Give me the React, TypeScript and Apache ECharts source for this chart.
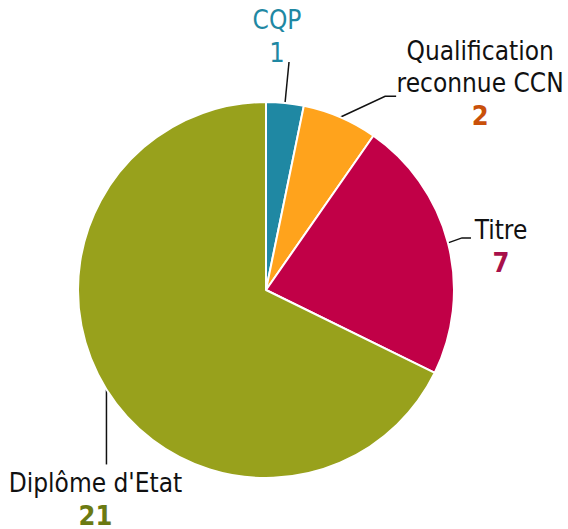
import React, { useEffect, useRef } from 'react';
import * as echarts from 'echarts';

const categories = ['CQP', 'Qualification\nreconnue CCN', 'Titre', "Diplôme d'Etat"];
const values = [1, 2, 7, 21];
const sliceColors = ['#1f88a3', '#ffa31c', '#c10047', '#98a11c'];
const nameColors = ['#1f88a3', '#111111', '#111111', '#111111'];
const valueColors = ['#1f88a3', '#c9500a', '#a8104a', '#6b7a12'];
const valueWeights = ['normal', 'bold', 'bold', 'bold'];

// label placement relative to the slice's edge point (mid-angle)
const labelOffsets = [
  [-8, -66.5],
  [140, -34],
  [53, 3.5],
  [-11, 110],
];
const lineBends = [
  [[4, -41], [4, -41]],
  [[45, -21], [56, -21]],
  [[14, -5], [23, -5]],
  [[0, 75], [0, 75]],
];

const FONT = "'DejaVu Sans Condensed', 'DejaVu Sans', sans-serif";

export default function App() {
  const ref = useRef<HTMLDivElement>(null);
  useEffect(() => {
    document.body.style.margin = '0';
    const chart = echarts.init(ref.current!, null, { renderer: 'svg' });
    const data = categories.map((name, i) => ({
      name,
      value: values[i],
      itemStyle: { color: sliceColors[i] },
      label: {
        rich: {
          n: { color: nameColors[i], fontSize: 26, lineHeight: 32, fontFamily: FONT, align: 'center' },
          v: {
            color: valueColors[i],
            fontSize: 27,
            lineHeight: 32,
            fontFamily: FONT,
            fontWeight: valueWeights[i],
            align: 'center',
          },
        },
      },
    }));
    chart.setOption({
      animation: false,
      backgroundColor: '#ffffff',
      series: [
        {
          type: 'pie',
          center: [266, 290],
          radius: 188,
          startAngle: 90,
          clockwise: true,
          avoidLabelOverlap: false,
          silent: true,
          itemStyle: { borderColor: '#ffffff', borderWidth: 2 },
          label: {
            show: true,
            position: 'outside',
            formatter: '{n|{b}}\n{v|{c}}',
            align: 'center',
          },
          labelLine: { show: true, length: 20, length2: 10, lineStyle: { color: '#111111', width: 1.5 } },
          emphasis: { disabled: true },
          labelLayout: (params: any) => {
            const i = params.dataIndex;
            const p0 = params.labelLinePoints ? params.labelLinePoints[0] : [0, 0];
            const off = labelOffsets[i];
            const b = lineBends[i];
            return {
              x: p0[0] + off[0],
              y: p0[1] + off[1],
              align: 'center',
              verticalAlign: 'middle',
              labelLinePoints: [
                [p0[0], p0[1]],
                [p0[0] + b[0][0], p0[1] + b[0][1]],
                [p0[0] + b[1][0], p0[1] + b[1][1]],
              ],
            };
          },
          data,
        },
      ],
    });
    return () => chart.dispose();
  }, []);
  return <div ref={ref} style={{ width: 568, height: 529 }} />;
}
